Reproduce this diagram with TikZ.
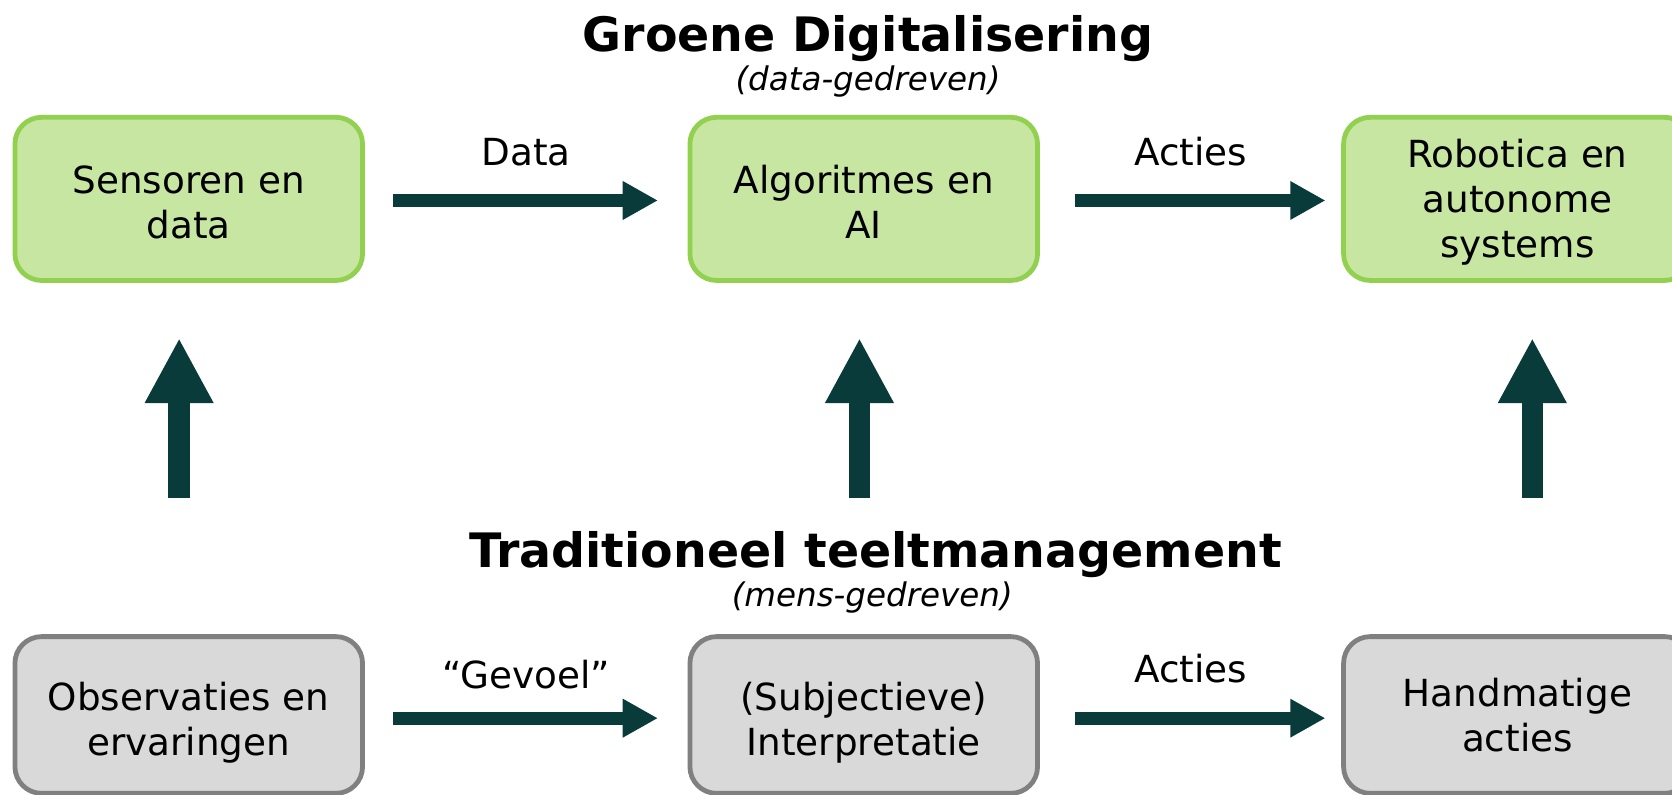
\documentclass[tikz,border=0pt]{standalone}
\usepackage{fontspec}
\setmainfont{DejaVu Sans}
\usetikzlibrary{arrows.meta}
\definecolor{groenvul}{HTML}{C6E6A1}
\definecolor{groenrand}{HTML}{92D050}
\definecolor{grijsvul}{HTML}{D9D9D9}
\definecolor{grijsrand}{HTML}{808080}
\definecolor{pijlkleur}{HTML}{0A3B3B}
\begin{document}
\begin{tikzpicture}[x=1pt, y=-1pt, blok node/.style={rectangle,rounded corners=25pt,line width=4.5pt,minimum width=326pt,inner sep=0pt,outer sep=0pt},groen node/.style={blok node,draw=groenrand,fill=groenvul,minimum height=153pt,label={[box tekst,yshift=-3pt]center:{#1}}},grijs node/.style n args={2}{blok node,draw=grijsrand,fill=grijsvul,minimum height=147pt,label={[box tekst,yshift=#2]center:{#1}}},box tekst/.style={align=center,font=\fontsize{35}{42}\selectfont},titel node/.style={anchor=base,font=\fontsize{44.5}{54}\selectfont\bfseries},sub node/.style={anchor=base,font=\fontsize{30.5}{36}\selectfont\itshape},label node/.style={anchor=base,yshift=33pt}]
\useasboundingbox (0,0) rectangle (1568,745);
\begin{scope}
\node[groen node={Sensoren en\\data}] (sens) at (177,186.5) {};%1
\node[groen node={Algoritmes en\\AI}] (alg) at (810,186.5) {};%2
\node[groen node={Robotica en\\autonome\\systems}] (rob) at (1423,186.5) {};%3
\node[grijs node={Observaties en\\ervaringen}{-7pt}] (obs) at (177,670.5) {};%4
\node[grijs node={(Subjectieve)\\Interpretatie}{-7pt}] (int) at (810,670.5) {};%5
\node[grijs node={Handmatige\\acties}{0pt}] (hand) at (1423,670.5) {};%6
\node[titel node] (groen) at (814,48.5) {Groene Digitalisering};
\node[sub node] (data) at (814,85) {(data-gedreven)};
\node[titel node] (trad) at (821,532) {Traditioneel teeltmanagement};
\node[sub node] (mens) at (818,569) {(mens-gedreven)};
\end{scope}
\begin{scope}[every edge/.style={draw=pijlkleur,line width=12pt,-{Triangle[length=33pt,width=34pt]}},every node/.style={font=\fontsize{35}{42}\selectfont}]
\draw  ([yshift=-1.5pt]sens.east) edge[shorten <=29pt,shorten >=30pt] node[label node]{Data} ([yshift=-1.5pt]alg.west);
\draw  ([yshift=-1.5pt]alg.east) edge[shorten <=35pt,shorten >=17pt] node[label node]{Acties} ([yshift=-1.5pt]rob.west);
\draw  ([yshift=-3pt]obs.east) edge[shorten <=29pt,shorten >=30pt] node[label node,yshift=-5pt]{“Gevoel”} ([yshift=-3pt]int.west);
\draw  ([yshift=-3pt]int.east) edge[shorten <=35pt,shorten >=17pt] node[label node]{Acties} ([yshift=-3pt]hand.west);
\end{scope}
\begin{scope}[every edge/.style={draw=pijlkleur,line width=20pt,-{Triangle[length=61pt,width=60pt]},shorten <=130pt,shorten >=54pt}]
\draw  ([xshift=-9pt]obs.north) edge ([xshift=-9pt]sens.south);
\draw  ([xshift=-4pt]int.north) edge ([xshift=-4pt]alg.south);
\draw  ([xshift=14pt]hand.north) edge ([xshift=14pt]rob.south);
\end{scope}
\end{tikzpicture}
\end{document}
